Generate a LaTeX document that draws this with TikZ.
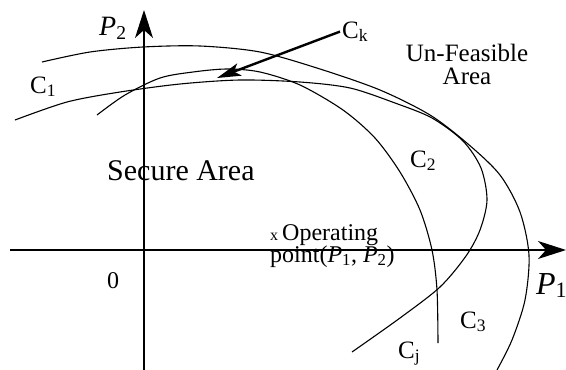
\documentclass[tikz,border=0pt]{standalone}
\usepackage{fontspec}
\setmainfont{Liberation Serif}
\usetikzlibrary{arrows.meta}
\newcommand{\fs}[1]{\fontsize{#1}{#1}\selectfont}

\begin{document}
\begin{tikzpicture}[x=1pt, y=-1pt,
  axis/.style={line width=1.3pt, -{Stealth[length=28pt,width=18pt,inset=8pt]}},
  curve/.style={line width=1.1pt, smooth},
  lbl/.style={inner sep=0pt, anchor=base west, font=\fs{25}},
  area/.style={inner sep=0pt, align=center, font=\fs{25}},
  ptr/.style={line width=2.4pt, -{Stealth[length=24pt,width=13pt,inset=6pt]}},
]
\useasboundingbox (0,0) rectangle (566,370);

% axes
\coordinate (yBot)   at (144,370);
\coordinate (yTop)   at (144,10);
\coordinate (xLeft)  at (10,250);
\coordinate (xRight) at (566,250);
\draw[axis] (yBot) -- (yTop);
\draw[axis] (xLeft) -- (xRight);

% constraint curves
\draw[curve] plot coordinates {(42,62) (90,52) (143,47) (200,46) (260,52) (320,69)
  (380,90) (430,115) (468,144) (500,175) (520,212) (529,255) (525,300) (512,340) (497,370)};
\draw[curve] plot coordinates {(15,120) (67,102) (120,92) (180,84) (240,80) (300,82)
  (350,88) (395,103) (432,118) (463,141) (481,168) (487,200) (480,230) (466,256)
  (440,287) (400,318) (352,352)};
\draw[curve] plot coordinates {(97,115) (125,95) (160,78) (193,72) (227,69) (260,72)
  (300,85) (343,110) (375,138) (400,172) (420,210) (432,250) (437,290) (438,343)};

% labels
\node[lbl, font=\fs{28}] (lblP2) at (99,35) {\textit{P}\textsubscript{2}};
\node[lbl, font=\fs{32}] (lblP1) at (536,294) {\textit{P}{\fs{22}\raisebox{-3pt}{1}}};
\node[lbl, font=\fs{24}] (lblO) at (107,288) {0};
\node[lbl, font=\fs{30}] (secure) at (107,180) {Secure Area};
\node[area, anchor=north] (unfeas) at (467,44) {Un-Feasible\\[-2pt]Area};
\node[inner sep=0pt, anchor=north west, align=left, font=\fontsize{24}{22}\selectfont]
  (oppt) at (270,224) {{\fs{16}x }Operating\\point(\textit{P}\textsubscript{1}, \textit{P}\textsubscript{2})};
\node[lbl] (lblC1) at (30,93) {C\textsubscript{1}};
\node[lbl] (lblC2) at (410,167) {C\textsubscript{2}};
\node[lbl] (lblC3) at (460,328) {C\textsubscript{3}};
\node[lbl] (lblCj) at (398,358) {C\textsubscript{j}};
\node[lbl, inner sep=2pt] (lblCk) at (340,38) {C\textsubscript{k}};

\coordinate (ckTip) at (217,78);
\draw[ptr] (lblCk.west) -- (ckTip);
\end{tikzpicture}
\end{document}
